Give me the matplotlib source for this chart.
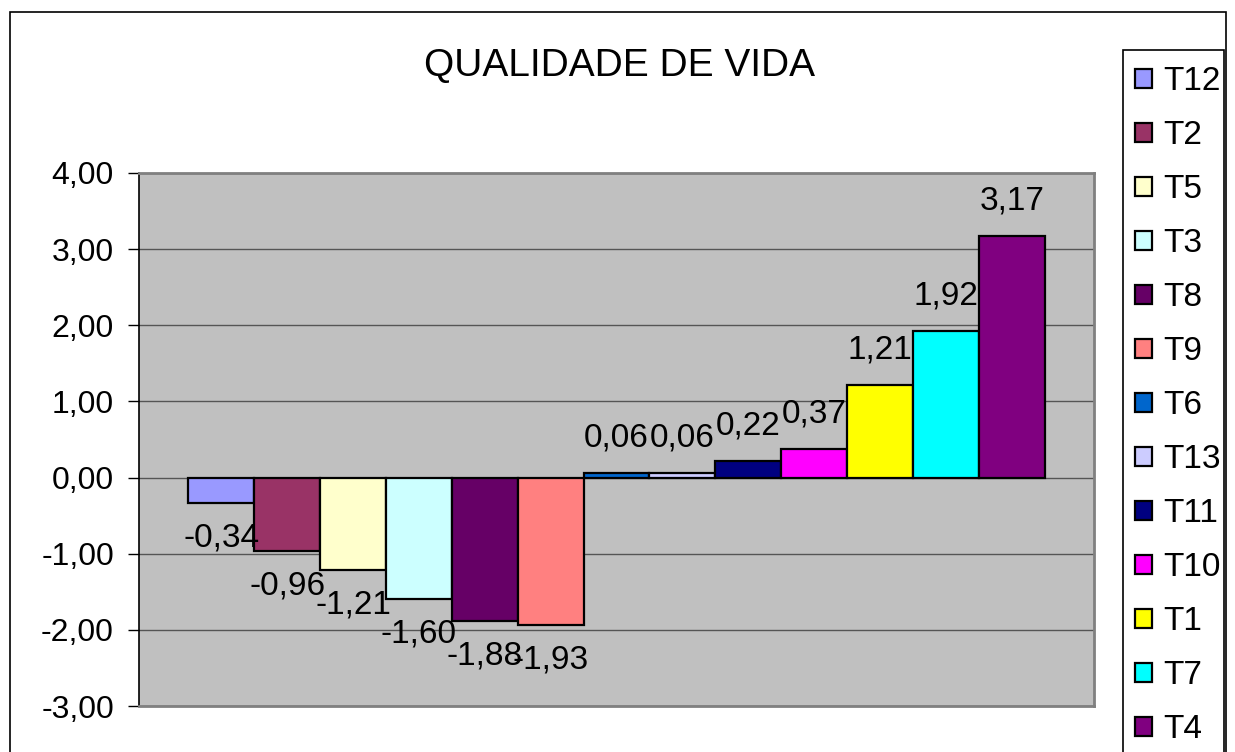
import numpy as np
import matplotlib.pyplot as plt
from matplotlib.patches import Rectangle

plt.rcParams['font.family'] = ['Liberation Sans', 'DejaVu Sans']

# dados
series = ['T12', 'T2', 'T5', 'T3', 'T8', 'T9', 'T6', 'T13', 'T11', 'T10', 'T1', 'T7', 'T4']
valores = [-0.34, -0.96, -1.21, -1.60, -1.88, -1.93, 0.06, 0.06, 0.22, 0.37, 1.21, 1.92, 3.17]
cores = ['#9999FF', '#993366', '#FFFFCC', '#CCFFFF', '#660066', '#FF8080', '#0066CC',
         '#CCCCFF', '#000080', '#FF00FF', '#FFFF00', '#00FFFF', '#800080']
yticks = [-3, -2, -1, 0, 1, 2, 3, 4]

W, H = 1235, 752
fig = plt.figure(figsize=(W / 100, H / 100), dpi=100)
ax = fig.add_axes([139 / W, 1 - 706 / H, (1094 - 139) / W, (706 - 173) / H])
ax.set_facecolor('#C0C0C0')

for i, (nome, v, c) in enumerate(zip(series, valores, cores)):
    ax.bar(i, v, width=1.0, color=c, edgecolor='black', linewidth=1.6, label=nome, zorder=3)
    txt = ('%.2f' % v).replace('.', ',')
    off = 35 if v >= 0 else -35
    ax.annotate(txt, (i, v), xytext=(0, off), textcoords='offset pixels',
                ha='center', va='center', fontsize=24, zorder=4)

ax.set_xlim(-1.25, len(series) - 1 + 1.25)
ax.set_ylim(-3, 4)
ax.set_yticks(yticks)
ax.set_yticklabels([('%.2f' % t).replace('.', ',') for t in yticks], fontsize=23)
ax.set_xticks([])
ax.tick_params(axis='y', length=8, width=1, pad=10, direction='out')
ax.grid(axis='y', color='#555555', linewidth=1, zorder=1)
ax.spines['left'].set_color('black')
ax.spines['left'].set_linewidth(1.2)
for s in ['top', 'right', 'bottom']:
    ax.spines[s].set_color('#808080')
    ax.spines[s].set_linewidth(2)

fig.text(620 / W, 1 - 66 / H, 'QUALIDADE DE VIDA', ha='center', va='center', fontsize=28)

# legenda (moldura desenhada a parte, cortada embaixo como no original)
leg = fig.legend(loc='upper left', bbox_to_anchor=(1135 / W, 1 - 66 / H),
                 fontsize=24, handlelength=0.5, handleheight=0.5, handletextpad=0.35,
                 labelspacing=0.69, borderpad=0, frameon=False, borderaxespad=0)
fig.patches.append(Rectangle((1123 / W, -0.05), (1224 - 1123) / W, 1.05 - 50 / H,
                             transform=fig.transFigure, fill=True, facecolor='white',
                             edgecolor='black', linewidth=1.2, zorder=0))

# moldura do grafico
fig.patches.append(Rectangle((10 / W, -0.05), (1226 - 10) / W, 1.05 - 12 / H,
                             transform=fig.transFigure, fill=False, edgecolor='black',
                             linewidth=1.2))

fig.savefig('out.png', dpi=100)
